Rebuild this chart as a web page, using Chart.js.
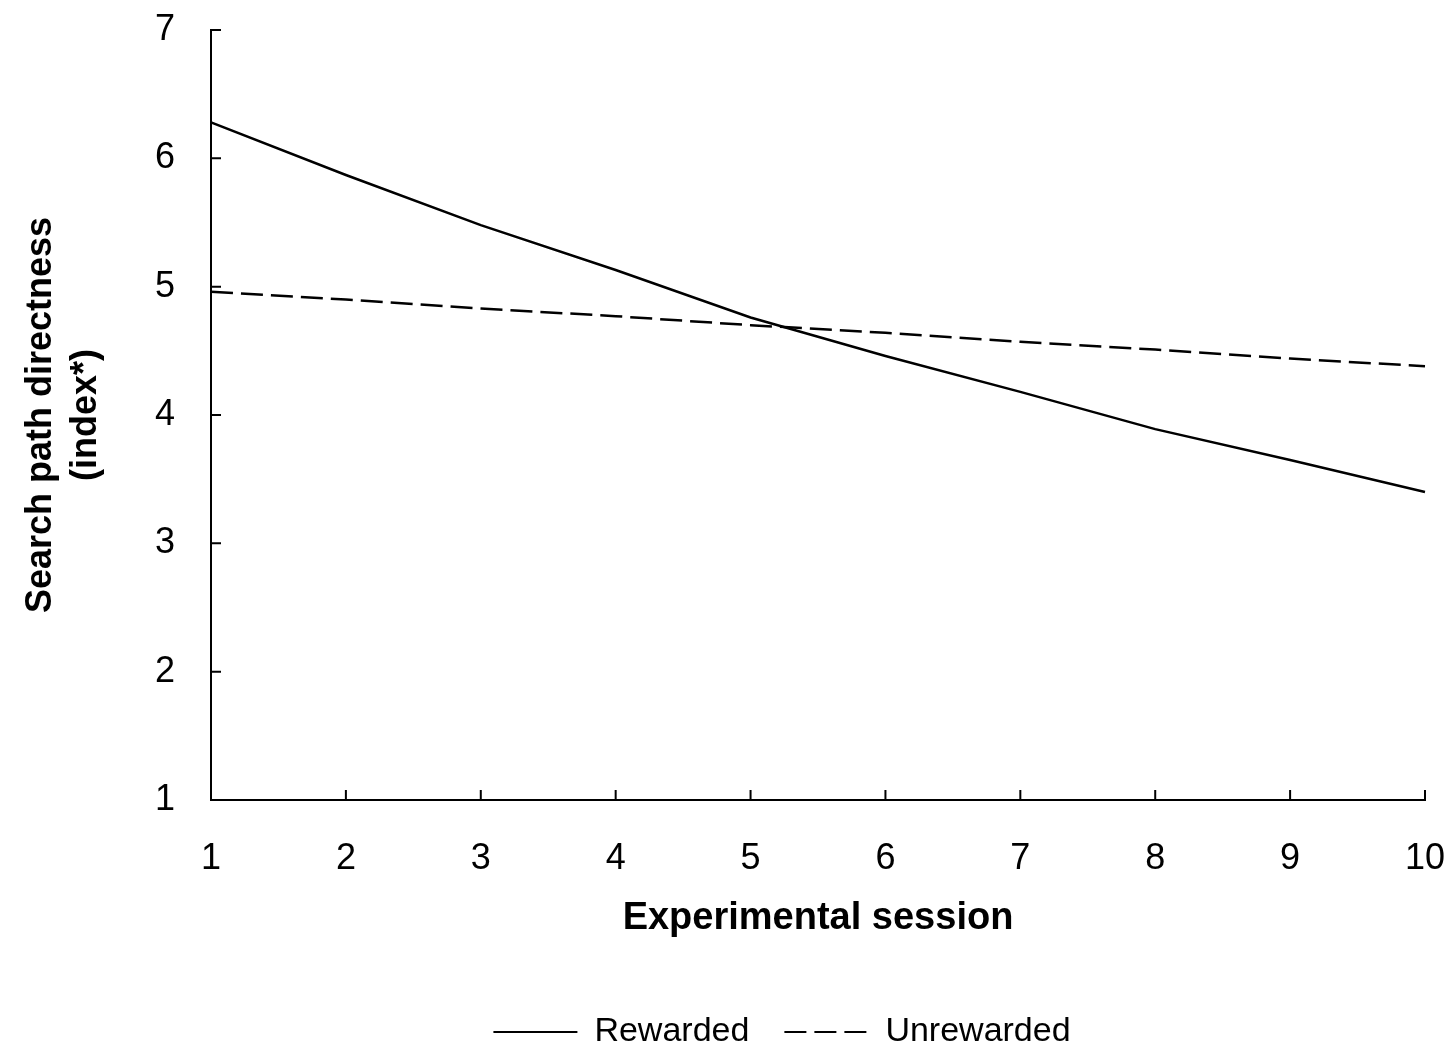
<!DOCTYPE html>
<html>
<head>
<meta charset="utf-8">
<script src="https://cdn.jsdelivr.net/npm/chart.js@4/dist/chart.umd.min.js"></script>
<style>
  html, body { margin: 0; padding: 0; background: #fff; }
  #wrap { width: 1454px; height: 1059px; }
</style>
</head>
<body>
<div id="wrap"><canvas id="pathChart" width="1454" height="1059"></canvas></div>
<script>
// session number on x, directness index on y
const sessions = ['1', '2', '3', '4', '5', '6', '7', '8', '9', '10'];
const rewarded = [6.28, 5.87, 5.48, 5.13, 4.76, 4.46, 4.18, 3.89, 3.65, 3.40];
const unrewarded = [4.96, 4.90, 4.83, 4.77, 4.70, 4.64, 4.57, 4.51, 4.44, 4.38];
const yMin = 1;
const yMax = 7;
const yStep = 1;

const fontFamily = "'Liberation Sans', Arial, sans-serif";

// short tick marks pointing into the plot, like the original figure
const innerTicks = {
    id: 'innerTicks',
    beforeDatasetsDraw(chart) {
        const { ctx, chartArea, scales } = chart;
        ctx.save();
        ctx.strokeStyle = '#000';
        ctx.lineWidth = 2;
        ctx.beginPath();
        scales.x.ticks.forEach((t, i) => {
            const px = scales.x.getPixelForTick(i);
            ctx.moveTo(px, chartArea.bottom);
            ctx.lineTo(px, chartArea.bottom - 10);
        });
        scales.y.ticks.forEach((t, i) => {
            const py = scales.y.getPixelForTick(i);
            ctx.moveTo(chartArea.left, py);
            ctx.lineTo(chartArea.left + 10, py);
        });
        ctx.stroke();
        ctx.restore();
    }
};

// legend sits a bit left of the plot centre in the figure
const legendShift = {
    id: 'legendShift',
    afterLayout(chart) {
        const l = chart.legend;
        l.left = 2 * 782 - l.right;
    }
};

const ctx = document.getElementById('pathChart').getContext('2d');
const pathChart = new Chart(ctx, {
    type: 'line',
    data: {
        labels: sessions,
        datasets: [
            {
                label: 'Rewarded',
                data: rewarded,
                borderColor: '#000',
                backgroundColor: 'transparent',
                borderWidth: 2.5,
                pointRadius: 0,
                tension: 0,
                fill: false
            },
            {
                label: 'Unrewarded',
                data: unrewarded,
                borderColor: '#000',
                backgroundColor: 'transparent',
                borderWidth: 2.5,
                borderDash: [22, 8],
                pointRadius: 0,
                tension: 0,
                fill: false
            }
        ]
    },
    options: {
        responsive: false,
        animation: false,
        layout: { padding: { left: 0, right: 29, top: 30, bottom: 0 } },
        plugins: {
            tooltip: { enabled: false },
            legend: {
                position: 'bottom',
                labels: {
                    color: '#000',
                    font: { family: fontFamily, size: 34 },
                    usePointStyle: true,
                    pointStyle: 'line',
                    pointStyleWidth: 84,
                    padding: 35,
                    generateLabels(chart) {
                        const items = Chart.defaults.plugins.legend.labels.generateLabels(chart);
                        items.forEach(it => {
                            const ds = chart.data.datasets[it.datasetIndex];
                            it.lineDash = ds.borderDash || [];
                            it.lineWidth = 2;
                            it.strokeStyle = '#000';
                        });
                        return items;
                    }
                }
            }
        },
        scales: {
            x: {
                type: 'category',
                offset: false,
                grid: { display: false, drawTicks: true, tickLength: 37 },
                border: { display: true, color: '#000', width: 2 },
                ticks: {
                    color: '#000',
                    padding: 0,
                    maxRotation: 0,
                    font: { family: fontFamily, size: 36 }
                },
                title: {
                    display: true,
                    text: 'Experimental session',
                    color: '#000',
                    font: { family: fontFamily, size: 38, weight: 'bold' },
                    padding: { top: 16, bottom: 39 }
                },
                afterFit(scale) {
                    scale.height = 180;
                }
            },
            y: {
                min: yMin,
                max: yMax,
                grid: { display: false, drawTicks: true, tickLength: 36 },
                border: { display: true, color: '#000', width: 2 },
                ticks: {
                    stepSize: yStep,
                    color: '#000',
                    padding: 0,
                    font: { family: fontFamily, size: 36 }
                },
                title: {
                    display: true,
                    text: ['Search path directness', '(index*)'],
                    color: '#000',
                    font: { family: fontFamily, size: 36, weight: 'bold', lineHeight: 1.25 },
                    padding: { top: 19, bottom: 0 }
                },
                afterFit(scale) {
                    scale.width = 211;
                }
            }
        }
    },
    plugins: [innerTicks, legendShift]
});
</script>
</body>
</html>
